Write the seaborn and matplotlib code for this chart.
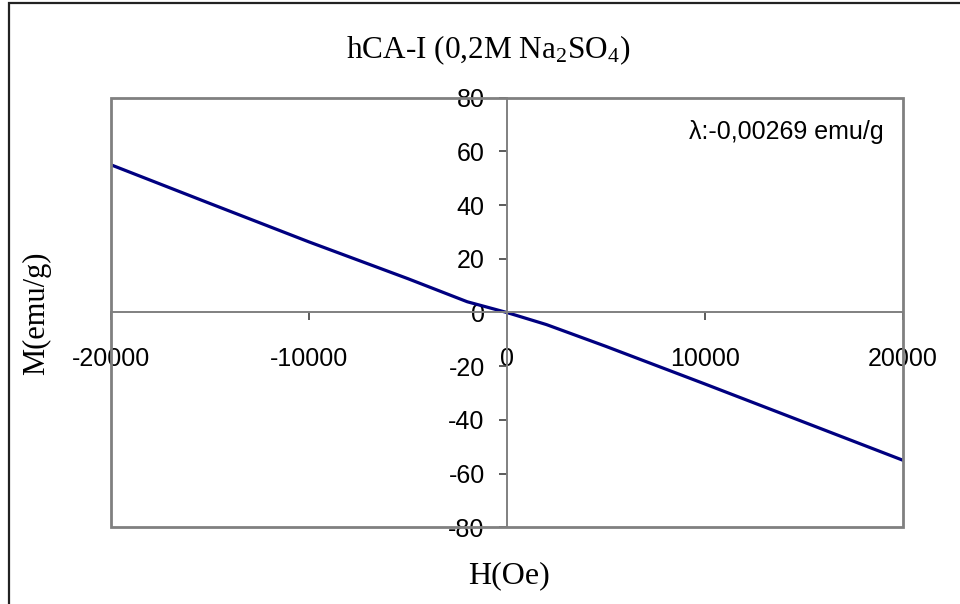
import matplotlib
matplotlib.use("Agg")
import matplotlib.pyplot as plt
import seaborn as sns
import pandas as pd
from matplotlib.patches import Rectangle

# Magnetization curve M(H)
field_oe = [-20000, -15000, -10000, -5000, -2000, 0, 2000, 5000, 10000, 15000, 20000]
magnetization = [55.0, 40.6, 26.3, 12.6, 4.0, 0.0, -4.5, -12.6, -26.6, -40.8, -55.0]

x_ticks = [-20000, -10000, 0, 10000, 20000]
y_ticks = [-80, -60, -40, -20, 0, 20, 40, 60, 80]

title_text = r"hCA-I (0,2M Na$_2$SO$_4$)"
x_label = "H(Oe)"
y_label = "M(emu/g)"
note_text = "λ:-0,00269 emu/g"

sns.set_theme(style="white")
plt.rcParams["font.family"] = ["Liberation Sans", "DejaVu Sans"]
plt.rcParams["axes.unicode_minus"] = False
plt.rcParams["mathtext.default"] = "regular"

df = pd.DataFrame({"H": field_oe, "M": magnetization})

fig = plt.figure(figsize=(9.6, 6.04), dpi=100)
fig.patch.set_facecolor("white")
ax = fig.add_axes([111 / 960, 1 - 527.3 / 604, 791.7 / 960, 429.6 / 604])
ax.set_facecolor("white")

sns.lineplot(data=df, x="H", y="M", ax=ax, color="#000080", linewidth=2.3)

ax.set_xlim(-20000, 20000)
ax.set_ylim(-80, 80)
ax.set_xticks(x_ticks)
ax.set_yticks(y_ticks)
ax.set_xticklabels([str(v) for v in x_ticks])
ax.set_yticklabels([str(v) for v in y_ticks])
ax.set_xlabel("")
ax.set_ylabel("")

axis_grey = "#808080"
# axes crossing at zero
ax.spines["left"].set_position(("data", 0))
ax.spines["bottom"].set_position(("data", 0))
ax.spines["top"].set_visible(False)
ax.spines["right"].set_visible(False)
for s in ("left", "bottom"):
    ax.spines[s].set_color(axis_grey)
    ax.spines[s].set_linewidth(1.4)

# plot-area frame
ax.add_patch(Rectangle((0, 0), 1, 1, transform=ax.transAxes, fill=False,
                       edgecolor=axis_grey, linewidth=2.0, clip_on=False, zorder=5))

ax.tick_params(axis="y", direction="out", length=6, width=1.2, color="#404040",
               pad=10, labelsize=18, labelcolor="black", left=True)
ax.tick_params(axis="x", direction="out", length=6, width=1.2, color="#404040",
               pad=19, labelsize=18, labelcolor="black", bottom=True)

ax.text(0.9764, 0.92, note_text, transform=ax.transAxes, ha="right", va="center",
        fontsize=18, color="black")

serif = ["Liberation Serif", "DejaVu Serif"]
fig.text(488 / 960, 1 - 50 / 604, title_text, ha="center", va="center",
         fontsize=22.5, family=serif, color="black")
fig.text(509 / 960, 1 - 576 / 604, x_label, ha="center", va="center",
         fontsize=23, family=serif, color="black")
fig.text(37 / 960, 1 - 313 / 604, y_label, ha="center", va="center",
         rotation=90, fontsize=22, family=serif, color="black")

# outer chart border
fig.add_artist(Rectangle((8.7 / 960, -0.05), 1.2, 1.05 - 2.7 / 604,
                         transform=fig.transFigure, fill=False,
                         edgecolor="#222222", linewidth=1.6))

fig.savefig("out.png", dpi=100, facecolor="white")
